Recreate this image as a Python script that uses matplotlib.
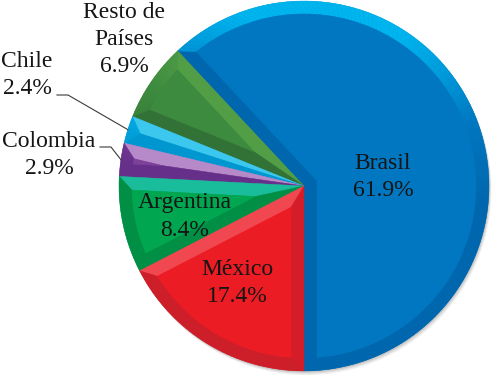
import numpy as np
import matplotlib
matplotlib.use("Agg")
import matplotlib.pyplot as plt
from matplotlib.patches import Polygon, Circle
from matplotlib.colors import to_rgb

# ---- data ----
categories = ["Brasil", "Resto de\nPaíses", "Chile", "Colombia", "Argentina", "México"]
values = [61.9, 6.9, 2.4, 2.9, 8.4, 17.4]

# ---- styles ----
face_colors = ["#0077C0", "#3D8B3E", "#05AEEA", "#7D4199", "#00A650", "#EC1C24"]
light_colors = ["#00B4EE", "#5DA84C", "#3CC8EE", "#B68AC9", "#1ABD9B", "#F24E58"]
dark_colors = ["#0066AE", "#337236", "#0096CF", "#66308A", "#008F45", "#CC1F2A"]

W, H = 495, 380
CX, CY, RPX = 304, 186, 185  # pixel centre / radius


def px2d(x, y):
    return (x - CX) / RPX, (CY - y) / RPX


# label centres (pixels)
label_px = [(383, 177), (124, 39.5), (27, 75), (49, 155), (185, 216.5), (237.5, 283)]

fig = plt.figure(figsize=(W / 100, H / 100), dpi=100)
ax = fig.add_axes([0, 0, 1, 1])

# soft shadow
for k, a in [(0.022, 0.06), (0.015, 0.08), (0.008, 0.10)]:
    ax.add_patch(Circle((k * 0.6, -k), 1.0, color="black", alpha=a, lw=0, zorder=0))

wedges, _ = ax.pie(values, colors=face_colors, startangle=270, counterclock=True,
                   radius=1, wedgeprops=dict(linewidth=0))

L = np.array([0.1, 1.0]); L = L / np.linalg.norm(L)
d = 0.07


def shade(i, n):
    t = (float(np.dot(n, L)) - 0.45) / 0.45
    t = max(-1.0, min(1.0, t))
    f = np.array(to_rgb(face_colors[i]))
    tgt = np.array(to_rgb(light_colors[i] if t > 0 else dark_colors[i]))
    return tuple(f + (tgt - f) * abs(t))


def e(deg):
    r = np.radians(deg)
    return np.array([np.cos(r), np.sin(r)])


for i, w in enumerate(wedges):
    t1, t2 = w.theta1, w.theta2
    R = w.r
    O = np.array(w.center)
    half = np.radians(t2 - t1) / 2
    mid = (t1 + t2) / 2
    s = d / np.sin(half)
    u = np.sqrt((R - d) ** 2 - d ** 2)
    da = np.degrees(np.arctan2(d, u))
    a1, a2 = t1 + da, t2 - da
    if a1 > a2 or s > R - d:
        a1 = a2 = mid
        s = R - d
    p = O + s * e(mid)
    q1 = O + (R - d) * e(a1)
    q2 = O + (R - d) * e(a2)
    arc = [O + (R - d) * e(a) for a in np.linspace(a1, a2, 80)]
    face = [p] + arc
    c1 = shade(i, e(t1 - 90))
    c2 = shade(i, e(t2 + 90))
    ax.add_patch(Polygon([O, O + R * e(t1), q1, p], closed=True, fc=c1, ec=c1, lw=0.3, zorder=3))
    ax.add_patch(Polygon([O, p, q2, O + R * e(t2)], closed=True, fc=c2, ec=c2, lw=0.3, zorder=3))
    N = max(4, int((t2 - t1) / 1.5))
    th = np.linspace(t1, t2, N + 1)
    al = np.linspace(a1, a2, N + 1)
    for j in range(N):
        c = shade(i, e((th[j] + th[j + 1]) / 2))
        quad = [O + R * e(th[j]), O + R * e(th[j + 1]),
                O + (R - d) * e(al[j + 1]), O + (R - d) * e(al[j])]
        ax.add_patch(Polygon(quad, closed=True, fc=c, ec=c, lw=0.3, zorder=3))
    ax.add_patch(Polygon(face, closed=True, fc=face_colors[i], ec=face_colors[i], lw=0.3, zorder=4))

# labels
for i, (cat, v) in enumerate(zip(categories, values)):
    x, y = px2d(*label_px[i])
    ax.text(x, y, f"{cat}\n{v:.1f}%", ha="center", va="center", multialignment="center",
            fontsize=17, family=["Liberation Serif", "DejaVu Serif"], color="#151515", zorder=6,
            linespacing=1.4)

# leader lines for Chile (2) and Colombia (3)
elbows = {2: [(57, 95), (68, 95)], 3: [(100, 147), (111, 147)]}
for i, pts in elbows.items():
    w = wedges[i]
    m = (w.theta1 + w.theta2) / 2
    end = e(m) * 1.0
    xs = [px2d(*pt)[0] for pt in pts] + [end[0]]
    ys = [px2d(*pt)[1] for pt in pts] + [end[1]]
    ax.plot(xs, ys, color="#3a3a3a", lw=0.8, zorder=5)

ax.set_xlim(-CX / RPX, (W - CX) / RPX)
ax.set_ylim(-(H - CY) / RPX, CY / RPX)
ax.set_aspect("auto")
ax.axis("off")
fig.savefig("out.png", dpi=100, facecolor="white")
